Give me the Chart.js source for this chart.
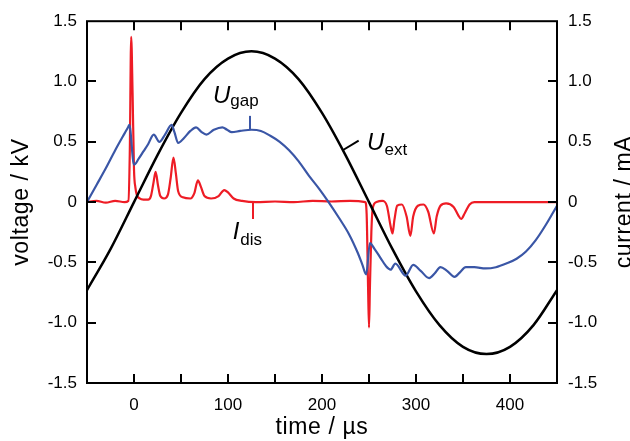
<!DOCTYPE html>
<html><head><meta charset="utf-8">
<script src="https://cdn.jsdelivr.net/npm/chart.js@4.4.0/dist/chart.umd.min.js"></script>
<style>html,body{margin:0;padding:0;background:#fff;overflow:hidden}canvas{display:block}</style>
</head><body>
<canvas id="c" width="630" height="441" style="width:630px;height:441px"></canvas>
<script>
// ---- data (time in µs) ----
const uextTime   = [-50,-25,0,25,50,75,100,125,150,175,200,225,250,275,300,325,350,375,400,425,450];
const uextValues = [-0.73,-0.39,0.00,0.39,0.74,1.02,1.19,1.25,1.19,1.02,0.74,0.39,0.00,-0.39,-0.74,-1.02,-1.20,-1.26,-1.20,-1.02,-0.73];

const ugapTime   = [-50,-40,-30,-20,-10,-6,-5,0,5,10,15,21,27,33,40,43,47,53,60,66,72,77,85,94,99,104,113,125,135,145,155,165,175,186,197,207,218,229,238,243,247,251,256,262,268,273,278,289,297,305,314,320,326,333,341,347,353,362,374,385,396,407,417,427,438,450];
const ugapValues = [0.00,0.14,0.28,0.43,0.57,0.625,0.64,0.31,0.36,0.42,0.48,0.56,0.50,0.56,0.64,0.58,0.49,0.53,0.59,0.62,0.58,0.56,0.60,0.62,0.60,0.58,0.59,0.60,0.59,0.55,0.50,0.43,0.34,0.22,0.11,0.00,-0.13,-0.27,-0.42,-0.52,-0.60,-0.34,-0.39,-0.46,-0.53,-0.56,-0.51,-0.61,-0.52,-0.57,-0.63,-0.59,-0.54,-0.57,-0.62,-0.58,-0.54,-0.54,-0.55,-0.54,-0.51,-0.47,-0.41,-0.32,-0.19,-0.03];

const idisTime   = [-50,-40,-30,-20,-10,-6,-4.5,-3,-1.5,0,1.5,3,6,10,15,18,20.5,23,25.5,28,32,36,39,42,44.5,47,52,60,64,68,71,75,82,90,96,100,106,115,130,150,170,190,210,230,246,247.5,249,250,251,252.5,254,258,264,269,273,275,277,280,285,290,294,297,302,308,313,319,322,326,332,340,345,348,352,357,362,380,400,420,450];
const idisValues = [0.00,0.01,-0.005,0.01,0.00,0.01,0.40,1.37,0.90,0.27,0.12,0.06,0.03,0.02,0.02,0.05,0.15,0.25,0.14,0.05,0.03,0.06,0.20,0.37,0.24,0.09,0.04,0.03,0.07,0.18,0.13,0.05,0.03,0.05,0.10,0.08,0.03,0.01,0.00,0.005,0.00,0.01,0.005,0.01,0.00,-0.10,-0.70,-1.04,-0.70,-0.25,-0.05,0.00,0.01,-0.03,-0.20,-0.26,-0.15,-0.03,-0.02,-0.12,-0.28,-0.12,-0.03,-0.02,-0.08,-0.26,-0.12,-0.03,-0.01,-0.04,-0.11,-0.14,-0.09,-0.02,0.00,0.00,0.00,0.00,0.00];

const xTickStep = 50, xLabelStep = 100;
const yTicks = [-1.5,-1.0,-0.5,0,0.5,1.0,1.5];

const BLUE = '#3a56a6', RED = '#ee1c25', BLACK = '#000000';
const FONT = "'Liberation Sans', Arial, Helvetica, sans-serif";

function pts(xs, ys){ return xs.map((x,i)=>({x:x, y:ys[i]})); }

// annotation placements (data coords)
const notes = [
  {main:'U', sub:'gap', tx:84, ty:0.82, subDy:3, color:BLACK, axis:'y',
   leader:[123.4,0.60,123.4,0.715], leaderColor:BLUE},
  {main:'U', sub:'ext', tx:248, ty:0.434, subDy:5, color:BLACK, axis:'y',
   leader:[222,0.43,239,0.51], leaderColor:BLACK},
  {main:'I', sub:'dis', tx:105, ty:-0.303, subDy:6, color:BLACK, axis:'y2',
   leader:[126.6,0.0,126.6,-0.14], leaderColor:RED}
];

const framePlugin = {
  id:'frame',
  afterDatasetsDraw(chart){
    const ctx = chart.ctx, a = chart.chartArea;
    const xs = chart.scales.x, ys = chart.scales.y, y2 = chart.scales.y2;
    ctx.save();
    // annotations
    notes.forEach(n=>{
      const sy = chart.scales[n.axis];
      ctx.strokeStyle = n.leaderColor; ctx.lineWidth = 2;
      ctx.beginPath();
      ctx.moveTo(xs.getPixelForValue(n.leader[0]), sy.getPixelForValue(n.leader[1]));
      ctx.lineTo(xs.getPixelForValue(n.leader[2]), sy.getPixelForValue(n.leader[3]));
      ctx.stroke();
      const px = xs.getPixelForValue(n.tx), py = sy.getPixelForValue(n.ty);
      ctx.fillStyle = n.color; ctx.textAlign='left'; ctx.textBaseline='alphabetic';
      ctx.font = "italic 24px " + FONT;
      ctx.fillText(n.main, px, py);
      const w = ctx.measureText(n.main).width;
      ctx.font = "17px " + FONT;
      ctx.fillText(n.sub, px + w + (n.main==='I'?1:0), py + n.subDy);
    });
    // frame
    ctx.strokeStyle = '#000'; ctx.lineWidth = 2;
    ctx.strokeRect(a.left, a.top, a.right - a.left, a.bottom - a.top);
    const TL = 9;
    ctx.beginPath();
    for (let t = xs.min + xTickStep; t < xs.max; t += xTickStep){
      const p = Math.round(xs.getPixelForValue(t));
      ctx.moveTo(p, a.bottom); ctx.lineTo(p, a.bottom - TL);
      ctx.moveTo(p, a.top); ctx.lineTo(p, a.top + TL);
    }
    yTicks.slice(1,-1).forEach(v=>{
      const p = Math.round(ys.getPixelForValue(v));
      ctx.moveTo(a.left, p); ctx.lineTo(a.left + TL, p);
      const q = Math.round(y2.getPixelForValue(v));
      ctx.moveTo(a.right, q); ctx.lineTo(a.right - TL, q);
    });
    ctx.stroke();
    // axis titles
    ctx.fillStyle = '#000';
    ctx.font = "23px " + FONT;
    if ('letterSpacing' in ctx) ctx.letterSpacing = '0.6px';
    ctx.textAlign = 'center'; ctx.textBaseline = 'alphabetic';
    ctx.fillText('time / µs', (a.left + a.right)/2, 434);
    ctx.save(); ctx.translate(28, (a.top + a.bottom)/2); ctx.rotate(-Math.PI/2);
    ctx.fillText('voltage / kV', 0, 0); ctx.restore();
    ctx.save(); ctx.translate(631, (a.top + a.bottom)/2); ctx.rotate(-Math.PI/2);
    ctx.fillText('current / mA', 0, 0); ctx.restore();
    ctx.restore();
  }
};

const lineDs = (label, data, color, axis, w) => ({
  label, data, borderColor: color, backgroundColor: color, borderWidth: w,
  pointRadius: 0, cubicInterpolationMode: 'monotone', tension: 0.4,
  yAxisID: axis, fill: false
});

Chart.defaults.font.family = FONT;
Chart.defaults.color = '#000';

new Chart(document.getElementById('c'), {
  type: 'line',
  data: { datasets: [
    lineDs('U_gap', pts(ugapTime, ugapValues), BLUE, 'y', 2.2),
    lineDs('U_ext', pts(uextTime, uextValues), BLACK, 'y', 2.5),
    lineDs('I_dis', pts(idisTime, idisValues), RED, 'y2', 2.2)
  ]},
  options: {
    responsive: false, animation: false, devicePixelRatio: 1,
    layout: { padding: { top: 17, left: 0, right: 0, bottom: 0 } },
    plugins: { legend: { display: false }, tooltip: { enabled: false } },
    scales: {
      x: { type: 'linear', position: 'bottom', min: -50, max: 450,
           grid: { display: false, drawTicks: false }, border: { display: false },
           ticks: { stepSize: xTickStep, autoSkip: false, maxRotation: 0, padding: 12,
                    font: { size: 17 }, color: '#000',
                    callback: v => (v % xLabelStep === 0 ? String(v) : '') },
           afterFit: s => { s.height = 58; } },
      y: { position: 'left', min: -1.5, max: 1.5,
           grid: { display: false, drawTicks: false }, border: { display: false },
           ticks: { stepSize: 0.5, padding: 10, font: { size: 17 }, color: '#000',
                    callback: v => (v === 0 ? '0' : v.toFixed(1)) },
           afterFit: s => { s.width = 87; } },
      y2: { position: 'right', min: -1.5, max: 1.5,
           grid: { display: false, drawTicks: false }, border: { display: false },
           ticks: { stepSize: 0.5, padding: 11, font: { size: 17 }, color: '#000',
                    callback: v => (v === 0 ? '0' : v.toFixed(1)) },
           afterFit: s => { s.width = 73; } }
    }
  },
  plugins: [framePlugin]
});
</script>
</body></html>
